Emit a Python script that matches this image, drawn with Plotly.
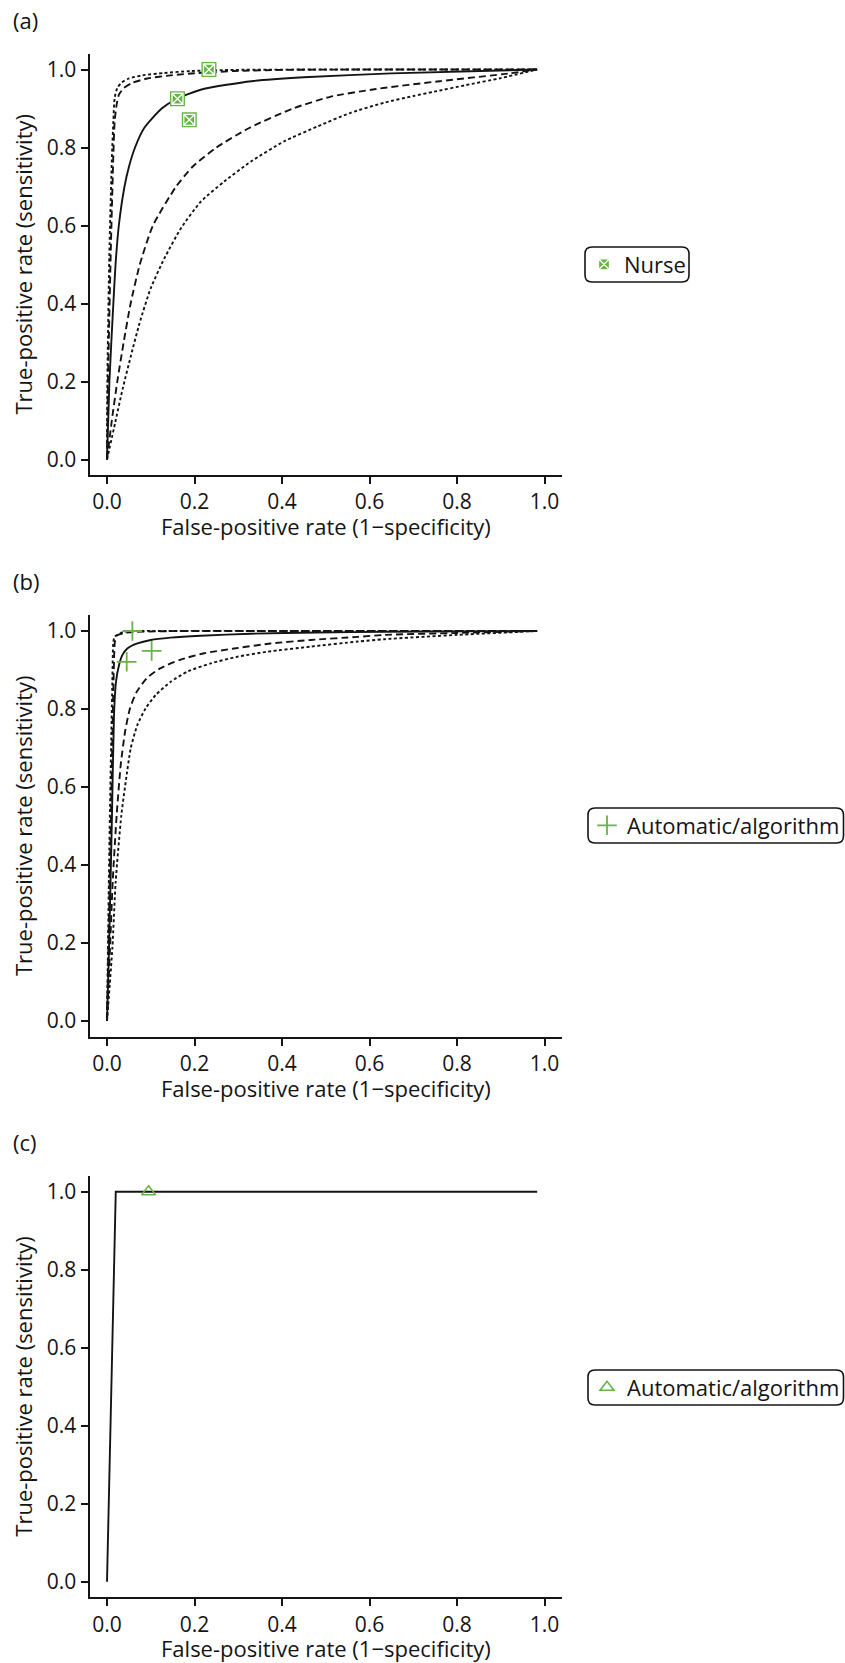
import plotly.graph_objects as go

W, H = 845, 1663
GREEN = "#67b346"
INK = "#141414"
FONT = "Open Sans"
FS = 22
TICK_FS = 21

ticks = [0.0, 0.2, 0.4, 0.6, 0.8, 1.0]
tick_text = ["0.0", "0.2", "0.4", "0.6", "0.8", "1.0"]
x_title = "False-positive rate (1\u2212specificity)"
y_title = "True-positive rate (sensitivity)"
panel_tags = ["(a)", "(b)", "(c)"]
legend_names = ["Nurse", "Automatic/algorithm", "Automatic/algorithm"]

# ---- (a) nurse-led assessment ----
a_study_fpr = [0.161, 0.188, 0.233]
a_study_tpr = [0.925, 0.871, 1.0]

a_curve_x = [0, 0.0055, 0.0145, 0.0195, 0.027, 0.040, 0.050, 0.064, 0.085, 0.125,
             0.16, 0.22, 0.33, 0.45, 0.65, 0.983]
a_curve_y = [0, 0.2, 0.4, 0.5, 0.6, 0.7, 0.75, 0.8, 0.85, 0.9,
             0.925, 0.95, 0.97, 0.98, 0.99, 1.0]

a_conf_hi_x = [0, 0.0023, 0.0084, 0.0145, 0.0175, 0.022, 0.0275, 0.039, 0.058, 0.0923,
               0.1457, 0.207, 0.291, 0.405, 0.60, 0.80, 0.983]
a_conf_hi_y = [0, 0.199, 0.524, 0.781, 0.867, 0.910, 0.936, 0.953, 0.966, 0.977,
               0.985, 0.991, 0.996, 0.999, 1.0, 1.0, 1.0]

a_pred_hi_x = [0, 0.0008, 0.0053, 0.0114, 0.0145, 0.0175, 0.0236, 0.0328, 0.0503, 0.0809,
               0.130, 0.191, 0.291, 0.50, 0.75, 0.983]
a_pred_hi_y = [0, 0.199, 0.524, 0.781, 0.867, 0.927, 0.953, 0.966, 0.977, 0.985,
               0.991, 0.996, 0.999, 1.0, 1.0, 1.0]

a_conf_lo_x = [0, 0.011, 0.0235, 0.038, 0.054, 0.075, 0.105, 0.158, 0.195, 0.25,
               0.325, 0.425, 0.51, 0.615, 0.76, 0.92, 0.983]
a_conf_lo_y = [0, 0.1, 0.2, 0.3, 0.4, 0.5, 0.6, 0.7, 0.75, 0.8,
               0.85, 0.9, 0.93, 0.95, 0.97, 0.99, 1.0]

a_pred_lo_x = [0, 0.019, 0.0359, 0.0549, 0.0745, 0.0999, 0.1312, 0.169, 0.2143, 0.268,
               0.329, 0.405, 0.481, 0.557, 0.634, 0.70, 0.747, 0.82, 0.90, 0.983]
a_pred_lo_y = [0, 0.096, 0.182, 0.267, 0.350, 0.439, 0.516, 0.593, 0.661, 0.713,
               0.764, 0.816, 0.854, 0.889, 0.915, 0.932, 0.943, 0.960, 0.978, 1.0]

# ---- (b) automatic / algorithm ----
b_study_fpr = [0.058, 0.045, 0.102]
b_study_tpr = [1.0, 0.921, 0.949]

b_curve_x = [0, 0.0046, 0.0114, 0.016, 0.0206, 0.0275, 0.035, 0.0465, 0.0694, 0.0999,
             0.145, 0.214, 0.329, 0.481, 0.634, 0.983]
b_curve_y = [0, 0.186, 0.528, 0.785, 0.870, 0.913, 0.938, 0.955, 0.968, 0.977,
             0.983, 0.988, 0.993, 0.996, 0.998, 1.0]

b_conf_hi_x = [0, 0.0076, 0.0149, 0.018, 0.0221, 0.0465, 0.138, 0.50, 0.983]
b_conf_hi_y = [0, 0.442, 0.870, 0.972, 0.988, 0.996, 0.9996, 1.0, 1.0]

b_pred_hi_x = [0, 0.0053, 0.0122, 0.0145, 0.0175, 0.039, 0.138, 0.50, 0.983]
b_pred_hi_y = [0, 0.442, 0.870, 0.972, 0.985, 0.998, 1.0, 1.0, 1.0]

b_conf_lo_x = [0, 0.0069, 0.0130, 0.0221, 0.0313, 0.0412, 0.0526, 0.0679, 0.0908, 0.1213,
               0.167, 0.222, 0.290, 0.374, 0.466, 0.573, 0.634, 0.80, 0.983]
b_conf_lo_y = [0, 0.186, 0.357, 0.528, 0.656, 0.741, 0.802, 0.844, 0.879, 0.904,
               0.926, 0.943, 0.955, 0.968, 0.977, 0.985, 0.990, 0.995, 1.0]

b_pred_lo_x = [0, 0.0122, 0.0198, 0.0328, 0.0427, 0.0542, 0.0694, 0.0885, 0.1114, 0.1457,
               0.184, 0.2372, 0.298, 0.3669, 0.466, 0.573, 0.634, 0.80, 0.983]
b_pred_lo_y = [0, 0.186, 0.357, 0.528, 0.613, 0.699, 0.759, 0.802, 0.836, 0.870,
               0.896, 0.917, 0.934, 0.947, 0.960, 0.973, 0.979, 0.990, 1.0]

# ---- (c) automatic / algorithm, single study ----
c_study_fpr = [0.095]
c_study_tpr = [1.0]
c_curve_x = [0, 0.02, 0.983]
c_curve_y = [0, 1.0, 1.0]

# ---- layout geometry (pixels) ----
PLOT_L, PLOT_R = 89.5, 562.1
panel_top = [53.9, 615.4, 1176.1]
panel_bot = [475.1, 1036.6, 1597.3]
AX_RANGE = [-0.04, 1.04]


def px(x):
    return x / W


def py(y):
    return 1 - y / H


fig = go.Figure()

ax_names = [("x", "y"), ("x2", "y2"), ("x3", "y3")]


def add_line(i, xs, ys, dash, smooth=True):
    xa, ya = ax_names[i]
    line = dict(color=INK, width=1.9, dash=dash)
    if smooth:
        line.update(shape="spline", smoothing=0.6)
    fig.add_trace(go.Scatter(
        x=xs, y=ys, xaxis=xa, yaxis=ya, mode="lines", showlegend=False,
        hoverinfo="skip", line=line,
    ))


DASH = "7px,4px"
DOT = "3px,2.5px"

curves = [
    [(a_pred_hi_x, a_pred_hi_y, DOT), (a_conf_hi_x, a_conf_hi_y, DASH),
     (a_pred_lo_x, a_pred_lo_y, DOT), (a_conf_lo_x, a_conf_lo_y, DASH),
     (a_curve_x, a_curve_y, "solid")],
    [(b_pred_hi_x, b_pred_hi_y, DOT), (b_conf_hi_x, b_conf_hi_y, DASH),
     (b_pred_lo_x, b_pred_lo_y, DOT), (b_conf_lo_x, b_conf_lo_y, DASH),
     (b_curve_x, b_curve_y, "solid")],
]
for i, group in enumerate(curves):
    for xs, ys, d in group:
        add_line(i, xs, ys, d)
add_line(2, c_curve_x, c_curve_y, "solid", smooth=False)

# study estimates
fig.add_trace(go.Scatter(
    x=a_study_fpr, y=a_study_tpr, xaxis="x", yaxis="y", mode="markers",
    showlegend=False, hoverinfo="skip",
    marker=dict(symbol="square", size=15, color=GREEN, line=dict(width=0)),
))
fig.add_trace(go.Scatter(
    x=a_study_fpr, y=a_study_tpr, xaxis="x", yaxis="y", mode="markers",
    name=legend_names[0], legend="legend",
    marker=dict(symbol="square-x", size=11, color=GREEN, line=dict(color="white", width=1.3)),
))
fig.add_trace(go.Scatter(
    x=b_study_fpr, y=b_study_tpr, xaxis="x2", yaxis="y2", mode="markers",
    name=legend_names[1], legend="legend2",
    marker=dict(symbol="cross-thin-open", size=14, color=GREEN, line=dict(color=GREEN, width=1.8)),
))
fig.add_trace(go.Scatter(
    x=c_study_fpr, y=c_study_tpr, xaxis="x3", yaxis="y3", mode="markers",
    name=legend_names[2], legend="legend3",
    marker=dict(symbol="triangle-up-open", size=12, color=GREEN, line=dict(color=GREEN, width=1.6)),
))

axis_common = dict(
    range=AX_RANGE, showgrid=False, zeroline=False, showline=True, linecolor=INK, linewidth=2,
    ticks="outside", ticklen=7, tickwidth=1.5, tickcolor=INK,
    tickvals=ticks, ticktext=tick_text,
    tickfont=dict(family=FONT, size=TICK_FS, color=INK), fixedrange=True,
)

layout = dict(
    width=W, height=H, margin=dict(l=0, r=0, t=0, b=0),
    paper_bgcolor="white", plot_bgcolor="white",
    font=dict(family=FONT, size=FS, color=INK),
)
annotations = []
shapes = []
box_px = [(585, 247, 689, 282), (588, 808, 843.5, 843), (588, 1370, 843.5, 1405)]

for i in range(3):
    xa, ya = ax_names[i]
    xk = "xaxis" if i == 0 else f"xaxis{i + 1}"
    yk = "yaxis" if i == 0 else f"yaxis{i + 1}"
    layout[xk] = dict(axis_common, domain=[px(PLOT_L), px(PLOT_R)], anchor=ya)
    layout[yk] = dict(axis_common, domain=[py(panel_bot[i]), py(panel_top[i])], anchor=xa)

    mid = (panel_top[i] + panel_bot[i]) / 2
    annotations.append(dict(
        text=panel_tags[i], xref="paper", yref="paper", x=px(11), y=py(panel_top[i] - 34),
        xanchor="left", yanchor="middle", showarrow=False, font=dict(size=FS)))
    annotations.append(dict(
        text=y_title, xref="paper", yref="paper", x=px(23), y=py(mid), textangle=-90,
        xanchor="center", yanchor="middle", showarrow=False, font=dict(size=FS)))
    annotations.append(dict(
        text=x_title, xref="paper", yref="paper", x=px(325.5), y=py(panel_bot[i] + 51),
        xanchor="center", yanchor="middle", showarrow=False, font=dict(size=FS)))

    lg = "legend" if i == 0 else f"legend{i + 1}"
    x0, y0, x1, y1 = box_px[i]
    layout[lg] = dict(
        x=px(x0 - 1), y=py((y0 + y1) / 2), xanchor="left", yanchor="middle",
        bgcolor="rgba(0,0,0,0)", borderwidth=0, itemwidth=30,
        font=dict(family=FONT, size=FS, color=INK),
    )
    r = 7
    path = (
        f"M {px(x0 + r)},{py(y0)} L {px(x1 - r)},{py(y0)} "
        f"Q {px(x1)},{py(y0)} {px(x1)},{py(y0 + r)} L {px(x1)},{py(y1 - r)} "
        f"Q {px(x1)},{py(y1)} {px(x1 - r)},{py(y1)} L {px(x0 + r)},{py(y1)} "
        f"Q {px(x0)},{py(y1)} {px(x0)},{py(y1 - r)} L {px(x0)},{py(y0 + r)} "
        f"Q {px(x0)},{py(y0)} {px(x0 + r)},{py(y0)} Z"
    )
    shapes.append(dict(type="path", xref="paper", yref="paper", path=path,
                       line=dict(color=INK, width=1.6), fillcolor="rgba(0,0,0,0)"))

layout["annotations"] = annotations
layout["shapes"] = shapes
fig.update_layout(**layout)

fig.write_html("out.html")
